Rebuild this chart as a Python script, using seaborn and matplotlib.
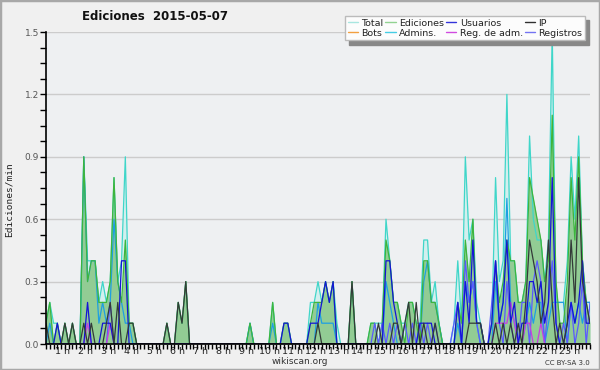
import numpy as np
import pandas as pd
import matplotlib
matplotlib.use("Agg")
import matplotlib.pyplot as plt
from matplotlib.lines import Line2D
from matplotlib.patches import Rectangle
import seaborn as sns

# ediciones por minuto, bloques de 10 min (6 por hora), de 0 h a 24 h
total = [
    0.1, 0.2, 0.1, 0.1, 0.0, 0.1,   # 0 h
    0.0, 0.1, 0.0, 0.0, 0.9, 0.4,   # 1 h
    0.4, 0.4, 0.2, 0.3, 0.2, 0.3,   # 2 h
    0.8, 0.3, 0.4, 0.9, 0.1, 0.1,   # 3 h
    0, 0, 0, 0, 0, 0,               # 4 h
    0, 0, 0.1, 0, 0, 0.2,           # 5 h
    0.1, 0.3, 0, 0, 0, 0,           # 6 h
    0, 0, 0, 0, 0, 0,               # 7 h
    0, 0, 0, 0, 0, 0,               # 8 h
    0.1, 0, 0, 0, 0, 0,             # 9 h
    0.2, 0.0, 0.0, 0.1, 0.1, 0.0,   # 10 h
    0.0, 0.0, 0.0, 0.0, 0.2, 0.2,   # 11 h
    0.3, 0.2, 0.3, 0.2, 0.3, 0.1,   # 12 h
    0.0, 0.0, 0.0, 0.3, 0.0, 0.0,   # 13 h
    0.0, 0.0, 0.1, 0.1, 0.1, 0.1,   # 14 h
    0.6, 0.4, 0.2, 0.2, 0.1, 0.1,   # 15 h
    0.2, 0.2, 0.1, 0.1, 0.5, 0.5,   # 16 h
    0.2, 0.3, 0.1, 0.0, 0.0, 0.0,   # 17 h
    0.1, 0.4, 0.1, 0.9, 0.5, 0.6,   # 18 h
    0.2, 0.1, 0.0, 0.0, 0.1, 0.8,   # 19 h
    0.3, 0.4, 1.2, 0.4, 0.4, 0.2,   # 20 h
    0.2, 0.3, 1.0, 0.6, 0.5, 0.5,   # 21 h
    0.3, 0.5, 1.5, 0.2, 0.2, 0.2,   # 22 h
    0.4, 0.9, 0.6, 1.0, 0.4, 0.2,   # 23 h
    0.2,
]

ediciones = [
    0.1, 0.2, 0.0, 0.1, 0.0, 0.1,
    0.0, 0.1, 0.0, 0.0, 0.9, 0.3,
    0.4, 0.4, 0.2, 0.2, 0.2, 0.3,
    0.8, 0.3, 0.2, 0.5, 0.1, 0.1,
    0, 0, 0, 0, 0, 0,
    0, 0, 0.1, 0, 0, 0.2,
    0.1, 0.3, 0, 0, 0, 0,
    0, 0, 0, 0, 0, 0,
    0, 0, 0, 0, 0, 0,
    0.1, 0, 0, 0, 0, 0,
    0.2, 0.0, 0.0, 0.1, 0.1, 0.0,
    0.0, 0.0, 0.0, 0.0, 0.1, 0.2,
    0.2, 0.2, 0.3, 0.2, 0.3, 0.0,
    0.0, 0.0, 0.0, 0.3, 0.0, 0.0,
    0.0, 0.0, 0.1, 0.1, 0.0, 0.1,
    0.5, 0.4, 0.2, 0.2, 0.1, 0.0,
    0.2, 0.2, 0.1, 0.0, 0.4, 0.4,
    0.2, 0.2, 0.1, 0.0, 0.0, 0.0,
    0.0, 0.2, 0.1, 0.5, 0.3, 0.6,
    0.1, 0.1, 0.0, 0.0, 0.1, 0.4,
    0.2, 0.3, 0.5, 0.4, 0.4, 0.2,
    0.2, 0.3, 0.8, 0.7, 0.6, 0.5,
    0.3, 0.4, 1.1, 0.3, 0.1, 0.1,
    0.3, 0.8, 0.5, 0.9, 0.4, 0.2,
    0.1,
]

usuarios = [
    0, 0, 0, 0.1, 0, 0,
    0, 0, 0, 0, 0, 0.2,
    0, 0, 0, 0.1, 0.1, 0.1,
    0, 0, 0.4, 0.4, 0, 0,
    0, 0, 0, 0, 0, 0,
    0, 0, 0, 0, 0, 0,
    0, 0, 0, 0, 0, 0,
    0, 0, 0, 0, 0, 0,
    0, 0, 0, 0, 0, 0,
    0, 0, 0, 0, 0, 0,
    0, 0, 0, 0.1, 0.1, 0,
    0, 0, 0, 0, 0.1, 0.1,
    0.1, 0.2, 0.3, 0.2, 0.3, 0,
    0, 0, 0, 0, 0, 0,
    0, 0, 0, 0, 0, 0,
    0.4, 0.4, 0.2, 0.1, 0, 0,
    0, 0, 0, 0.1, 0.1, 0.1,
    0.1, 0, 0, 0, 0, 0,
    0, 0.2, 0, 0.3, 0.1, 0.5,
    0.1, 0.1, 0, 0, 0.1, 0.4,
    0.1, 0.2, 0.5, 0.1, 0.2, 0,
    0.1, 0.1, 0.3, 0.3, 0.2, 0.3,
    0.1, 0.2, 0.8, 0.1, 0, 0,
    0.1, 0.2, 0.1, 0.2, 0.4, 0.1,
    0.1,
]

ip = [
    0.1, 0, 0, 0, 0, 0.1,
    0, 0.1, 0, 0, 0.1, 0,
    0.1, 0, 0, 0, 0.1, 0.2,
    0, 0.2, 0, 0, 0.1, 0.1,
    0, 0, 0, 0, 0, 0,
    0, 0, 0.1, 0, 0, 0.2,
    0.1, 0.3, 0, 0, 0, 0,
    0, 0, 0, 0, 0, 0,
    0, 0, 0, 0, 0, 0,
    0, 0, 0, 0, 0, 0,
    0, 0, 0, 0, 0, 0,
    0, 0, 0, 0, 0, 0,
    0.1, 0, 0, 0, 0, 0,
    0, 0, 0, 0.3, 0, 0,
    0, 0, 0, 0, 0.1, 0,
    0, 0, 0.1, 0.1, 0, 0.1,
    0.2, 0, 0.2, 0, 0.1, 0,
    0, 0.1, 0, 0, 0, 0,
    0, 0, 0, 0, 0.1, 0.1,
    0.1, 0.1, 0, 0, 0, 0.1,
    0, 0.1, 0, 0.1, 0, 0.1,
    0, 0.2, 0.5, 0.4, 0.3, 0.1,
    0.2, 0.5, 0.2, 0, 0.1, 0,
    0.1, 0.5, 0.2, 0.8, 0.3, 0.2,
    0.1,
]

admins = [
    0, 0.1, 0, 0, 0, 0,
    0, 0, 0, 0, 0.9, 0.3,
    0.4, 0.4, 0.1, 0.2, 0.1, 0.2,
    0.6, 0.3, 0.2, 0.1, 0.1, 0,
    0, 0, 0, 0, 0, 0,
    0, 0, 0, 0, 0, 0,
    0, 0, 0, 0, 0, 0,
    0, 0, 0, 0, 0, 0,
    0, 0, 0, 0, 0, 0,
    0.1, 0, 0, 0, 0, 0,
    0.1, 0, 0, 0, 0, 0,
    0, 0, 0, 0, 0, 0,
    0.2, 0.1, 0.1, 0.1, 0.1, 0,
    0, 0, 0, 0, 0, 0,
    0, 0, 0, 0, 0, 0,
    0.3, 0.2, 0.1, 0, 0, 0,
    0, 0, 0, 0, 0.3, 0.4,
    0.2, 0.2, 0.1, 0, 0, 0,
    0, 0.1, 0, 0.3, 0.2, 0.3,
    0.1, 0, 0, 0, 0, 0.3,
    0.1, 0.2, 0.7, 0.2, 0.1, 0,
    0, 0.1, 0.2, 0.1, 0.2, 0.2,
    0, 0.1, 0.2, 0.2, 0.2, 0.2,
    0, 0.2, 0.1, 0.2, 0.1, 0.2,
    0.2,
]

registros = [
    0, 0, 0, 0, 0, 0,
    0, 0, 0, 0, 0, 0,
    0, 0, 0, 0, 0, 0.2,
    0, 0, 0, 0, 0, 0,
    0, 0, 0, 0, 0, 0,
    0, 0, 0, 0, 0, 0,
    0, 0, 0, 0, 0, 0,
    0, 0, 0, 0, 0, 0,
    0, 0, 0, 0, 0, 0,
    0, 0, 0, 0, 0, 0,
    0, 0, 0, 0, 0, 0,
    0, 0, 0, 0, 0, 0,
    0, 0, 0, 0, 0, 0,
    0, 0, 0, 0, 0, 0,
    0, 0, 0, 0.1, 0, 0.1,
    0, 0.1, 0, 0.1, 0, 0.1,
    0, 0.1, 0, 0.1, 0, 0.1,
    0, 0.1, 0, 0, 0, 0,
    0.1, 0.2, 0, 0.4, 0.2, 0.3,
    0.1, 0, 0, 0, 0.2, 0.4,
    0.1, 0, 0.3, 0.1, 0, 0,
    0.2, 0.2, 0, 0.3, 0.4, 0.3,
    0, 0.2, 0.4, 0.1, 0, 0.1,
    0, 0.2, 0, 0.1, 0.3, 0,
    0.2,
]

reg_adm = [
    0, 0, 0, 0, 0, 0,
    0, 0, 0, 0, 0, 0.1,
    0, 0, 0, 0, 0, 0.1,
    0, 0, 0, 0, 0, 0,
    0, 0, 0, 0, 0, 0,
    0, 0, 0, 0, 0, 0,
    0, 0, 0, 0, 0, 0,
    0, 0, 0, 0, 0, 0,
    0, 0, 0, 0, 0, 0,
    0, 0, 0, 0, 0, 0,
    0, 0, 0, 0, 0, 0,
    0, 0, 0, 0, 0, 0,
    0, 0, 0, 0, 0, 0,
    0, 0, 0, 0, 0, 0,
    0, 0, 0, 0, 0, 0,
    0, 0, 0, 0, 0, 0,
    0, 0, 0, 0, 0, 0,
    0, 0, 0, 0, 0, 0,
    0, 0, 0, 0, 0, 0,
    0, 0, 0, 0, 0, 0.1,
    0.1, 0.1, 0.1, 0.2, 0.1, 0,
    0, 0.1, 0.1, 0, 0, 0.1,
    0, 0, 0, 0, 0, 0,
    0, 0, 0, 0, 0, 0,
    0,
]

horas = np.arange(len(total)) / 6
horas_lbl = np.arange(1, 24)
etiquetas_x = [f"{h} h" for h in horas_lbl]
yticks = [0.0, 0.3, 0.6, 0.9, 1.2, 1.5]

series = {
    "Total": total, "Admins.": admins, "Ediciones": ediciones,
    "Registros": registros, "Reg. de adm.": reg_adm,
    "Usuarios": usuarios, "IP": ip,
}
colores = {
    "Total": "#3fd6c9", "Admins.": "#1e9fe2", "Ediciones": "#3db53d",
    "Registros": "#5a5aff", "Reg. de adm.": "#c83de0",
    "Usuarios": "#1414d6", "IP": "#333a38",
}

df = pd.concat(
    [pd.DataFrame({"hora": horas, "valor": v, "serie": k}) for k, v in series.items()],
    ignore_index=True)

sns.set_theme(style="white")
plt.rcParams["font.family"] = ["DejaVu Sans"]

fig = plt.figure(figsize=(6, 3.7), dpi=100, facecolor="#f0f0f0")
ax = fig.add_axes([46 / 600, 26 / 370, 544 / 600, 312 / 370])
ax.set_facecolor("#eef0f2")

# areas rellenas
ax.fill_between(horas, total, color="#d3efee", lw=0, zorder=1)
ax.fill_between(horas, ediciones, color="#8fca8f", lw=0, alpha=0.95, zorder=2)

sns.lineplot(data=df, x="hora", y="valor", hue="serie", hue_order=list(series),
             palette=colores, linewidth=0.9, legend=False, ax=ax, zorder=3)

ax.set_xlim(0, 24)
ax.set_ylim(0, 1.5)
ax.set_xlabel("")
ax.set_ylabel("")

# ejes
ax.set_yticks(yticks)
ax.set_yticklabels([f"{v:.1f}" for v in yticks], fontsize=6.5, color="#555555")
ax.set_yticks(np.arange(0, 1.5001, 0.075), minor=True)
ax.tick_params(axis="y", which="both", direction="out", length=4, width=1,
               color="black", pad=1, left=True)
ax.set_xticks(horas, minor=True)
ax.set_xticks(horas_lbl * 1.017 - 0.31)
ax.set_xticklabels(etiquetas_x, fontsize=6.8, color="#222222")
ax.tick_params(axis="x", which="major", length=0, pad=2)
ax.tick_params(axis="x", which="minor", direction="out", length=3.5, width=1,
               color="black", bottom=True)
ax.yaxis.grid(True, color="#cccccc", lw=1)
ax.xaxis.grid(False)
ax.set_axisbelow(True)
for s in ["top", "right"]:
    ax.spines[s].set_visible(False)
for s in ["left", "bottom"]:
    ax.spines[s].set_color("black")
    ax.spines[s].set_linewidth(1.2)
    ax.spines[s].set_zorder(5)

# leyenda
leyenda = [
    ("Total", "#a8e6e0"), ("Bots", "#f2a040"),
    ("Ediciones", "#92d392"), ("Admins.", "#45cde4"),
    ("Usuarios", "#3434da"), ("Reg. de adm.", "#d04ae0"),
    ("IP", "#303030"), ("Registros", "#7474f2"),
]
handles = [Line2D([], [], color=c, lw=1) for _, c in leyenda]
leg = fig.legend(handles, [n for n, _ in leyenda], ncol=4, loc="upper right",
                 bbox_to_anchor=(590 / 600, 1 - 11 / 370), fontsize=6.8,
                 handlelength=1.1, handletextpad=0.35, columnspacing=0.2,
                 labelspacing=0.1, borderpad=0.3, fancybox=False,
                 shadow={"color": "#888888", "alpha": 1, "ox": 3, "oy": -3},
                 framealpha=1, facecolor="#fcfcfc", edgecolor="#bbbbbb")
for t in leg.get_texts():
    t.set_color("#222222")

fig.text(155 / 600, 1 - 17 / 370, "Ediciones  2015-05-07", fontsize=8.5,
         weight="bold", ha="center", va="center", color="#111111")
fig.text(9 / 600, 1 - 200 / 370, "Ediciones/min", rotation=90, fontsize=6.8,
         family="DejaVu Sans Mono", ha="center", va="center", color="#222222")
fig.text(300 / 600, 1 - 361 / 370, "wikiscan.org", fontsize=6.5,
         ha="center", va="center", color="#333333")
fig.text(590 / 600, 1 - 363 / 370, "CC BY-SA 3.0", fontsize=5,
         ha="right", va="center", color="#333333")

fig.patches.append(Rectangle((0, 0), 1, 1, transform=fig.transFigure,
                             fill=False, edgecolor="#a8a8a8", lw=2.5))

fig.savefig("out.png", dpi=100, facecolor=fig.get_facecolor())
